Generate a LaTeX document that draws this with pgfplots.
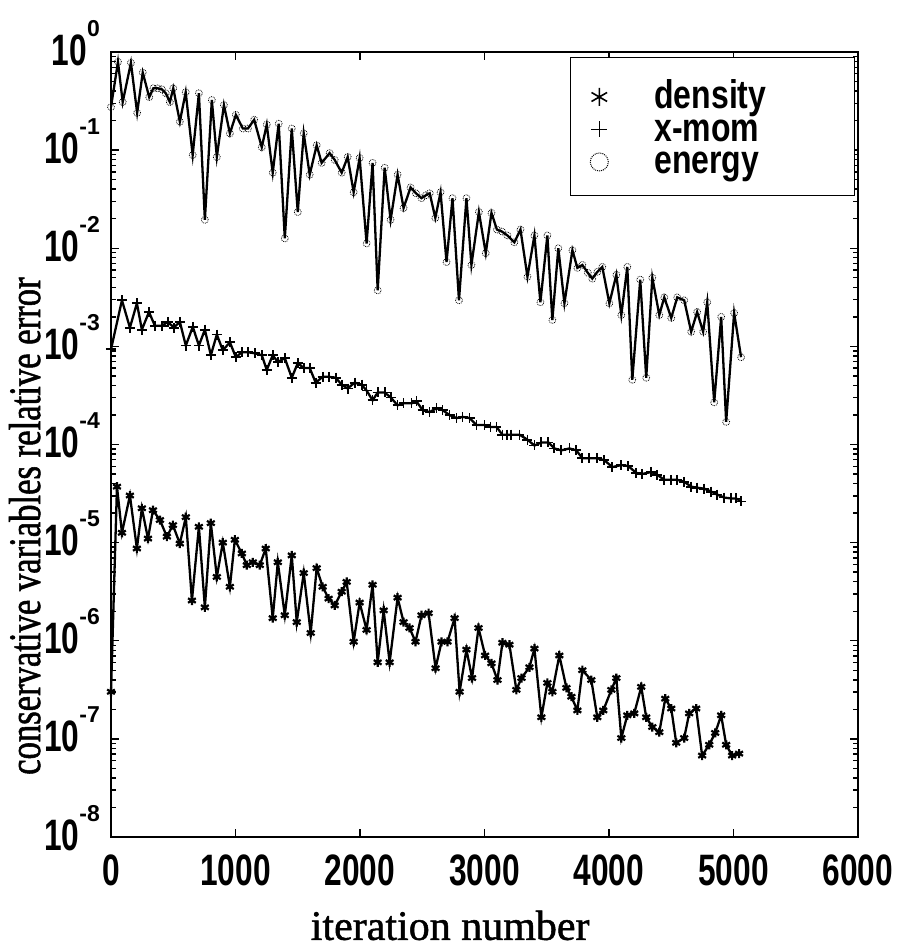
\documentclass[border=0pt]{standalone}
\usepackage{pgfplots}
\pgfplotsset{compat=1.18}
\usepackage{fontspec}
\setmainfont{Liberation Serif}
\newfontfamily\tickfont[FakeStretch=0.72]{Liberation Sans}
\newfontfamily\expfont{Liberation Sans}
\newfontfamily\legfont[FakeStretch=0.8]{Liberation Sans}
\newfontfamily\labfont[FakeStretch=0.77,FakeBold=1.2]{Liberation Serif}
\newfontfamily\xlabfont[FakeBold=1.2]{Liberation Serif}
\newcommand\ex[1]{\raisebox{29bp}{\expfont\bfseries\fontsize{23bp}{23bp}\selectfont #1}}
\newcommand\lent[1]{\rule[-3bp]{0pt}{34bp}\makebox[191bp][l]{#1}}
\begin{document}
\begin{tikzpicture}
\path[use as bounding box] (-111bp,-115bp) rectangle (794bp,837bp);
\begin{axis}[
  at={(0,0)}, anchor=south west, scale only axis,
  width=747bp, height=785bp,
  ymode=log, xmin=0, xmax=6000, ymin=1e-8, ymax=1,
  xtick={0,1000,2000,3000,4000,5000,6000},
  xticklabels={0,1000,2000,3000,4000,5000,6000},
  ytick={1e-8,1e-7,1e-6,1e-5,1e-4,1e-3,1e-2,1e-1,1},
  yticklabels={10\ex{-8},10\ex{-7},10\ex{-6},10\ex{-5},10\ex{-4},10\ex{-3},10\ex{-2},10\ex{-1},10\ex{0}},
  tick label style={font=\tickfont\bfseries\fontsize{44bp}{48bp}\selectfont},
  xticklabel style={anchor=base, inner sep=0pt, yshift=-48bp},
  yticklabel style={anchor=base east, inner sep=0pt, xshift=-11bp, yshift=-13bp},
  major tick length=8bp, minor tick length=5bp,
  tick style={line width=1.4bp, black},
  axis line style={line width=2.2bp},
  tick align=inside,
  xlabel={iteration number},
  ylabel={conservative variables relative error},
  xlabel style={at={(axis description cs:0.454,-0.131)}, anchor=base, font=\xlabfont\fontsize{42bp}{42bp}\selectfont},
  ylabel style={at={(axis description cs:-0.095,0.396)}, anchor=base, font=\labfont\fontsize{45bp}{45bp}\selectfont},
  legend style={at={(0.996,0.9936)}, anchor=north east, draw=black, line width=1.4bp,
    inner xsep=9bp, inner ysep=20bp, row sep=0bp, column sep=35bp,
    font=\legfont\bfseries\fontsize{40bp}{40bp}\selectfont, nodes={inner sep=0bp}},
  legend cell align=left,
  legend image code/.code={\path[draw=none] (-20bp,-3bp) -- (20bp,-3bp); \draw[#1] plot coordinates {(0bp,-3bp)};},
]
\addlegendimage{only marks, black, mark=asterisk, mark size=9bp, mark options={line width=1.6bp}}
\addlegendentry{\lent{density}}
\addlegendimage{only marks, black, mark=+, mark size=8bp, mark options={line width=1.4bp}}
\addlegendentry{\lent{x-mom}}
\addlegendimage{only marks, black, mark=o, mark size=9bp, mark options={line width=1bp, densely dotted}}
\addlegendentry{\lent{energy}}

% energy (top)
\addplot[black, line width=2.3bp, mark=o, mark size=3.5bp, mark options={line width=0.8bp, densely dotted}, forget plot] coordinates {
(0,0.275)(56,0.794)(94,0.309)(160,0.776)(210,0.240)(255,0.617)(307,0.347)(340,0.427)(375,0.427)(408,0.417)(440,0.380)(473,0.309)(500,0.427)(553,0.195)(600,0.389)(656,0.0891)(706,0.380)(754,0.0195)(810,0.324)(850,0.0851)(907,0.288)(955,0.148)(1003,0.229)(1059,0.166)(1100,0.166)(1150,0.204)(1211,0.107)(1251,0.182)(1299,0.0589)(1347,0.186)(1396,0.0126)(1452,0.166)(1500,0.0234)(1548,0.148)(1596,0.0562)(1652,0.112)(1692,0.0741)(1756,0.0933)(1797,0.0794)(1853,0.0589)(1901,0.0851)(1949,0.0372)(1997,0.0832)(2053,0.0112)(2101,0.0741)(2142,0.00372)(2198,0.0661)(2246,0.0195)(2302,0.0562)(2350,0.0257)(2406,0.0417)(2450,0.0363)(2494,0.0324)(2530,0.0347)(2560,0.0363)(2605,0.0204)(2647,0.0372)(2695,0.00724)(2743,0.0324)(2795,0.00295)(2855,0.0324)(2895,0.00676)(2955,0.0234)(3010,0.00891)(3056,0.0229)(3100,0.0155)(3140,0.0148)(3184,0.0135)(3240,0.0115)(3289,0.0155)(3345,0.00513)(3401,0.0135)(3449,0.00282)(3505,0.0135)(3545,0.00186)(3593,0.0100)(3642,0.00275)(3706,0.00955)(3746,0.00631)(3786,0.00676)(3830,0.00562)(3866,0.00490)(3906,0.00575)(3946,0.00646)(4003,0.00275)(4059,0.00537)(4099,0.00209)(4147,0.00646)(4187,0.000457)(4251,0.00479)(4299,0.000479)(4348,0.00501)(4404,0.00209)(4444,0.00316)(4500,0.00195)(4548,0.00316)(4604,0.00295)(4660,0.00141)(4708,0.00224)(4756,0.00141)(4789,0.00282)(4845,0.000269)(4901,0.00200)(4941,0.000170)(5005,0.00219)(5061,0.000776)
};
% x-mom (middle)
\addplot[black, line width=2.3bp, mark=+, mark size=5bp, mark options={line width=1.8bp, solid}, forget plot] coordinates {
(0,9.33e-4)(88,2.95e-3)(152,1.55e-3)(208,2.75e-3)(248,1.48e-3)(305,2.24e-3)(353,1.62e-3)(409,1.62e-3)(457,1.78e-3)(505,1.55e-3)(553,1.78e-3)(601,1.02e-3)(657,1.58e-3)(706,1.02e-3)(754,1.48e-3)(802,8.13e-4)(850,1.32e-3)(898,9.12e-4)(955,1.10e-3)(1003,7.76e-4)(1051,8.71e-4)(1099,8.71e-4)(1155,8.51e-4)(1211,8.13e-4)(1251,5.75e-4)(1299,8.13e-4)(1340,6.92e-4)(1396,7.59e-4)(1452,4.79e-4)(1500,6.76e-4)(1548,6.03e-4)(1596,6.03e-4)(1644,4.27e-4)(1700,4.90e-4)(1748,4.90e-4)(1805,4.79e-4)(1853,4.07e-4)(1901,3.72e-4)(1957,4.27e-4)(2013,4.07e-4)(2053,3.55e-4)(2101,2.82e-4)(2142,3.39e-4)(2198,3.39e-4)(2246,3.02e-4)(2302,2.51e-4)(2350,2.63e-4)(2414,2.63e-4)(2454,2.75e-4)(2503,2.24e-4)(2559,2.14e-4)(2615,2.34e-4)(2663,2.24e-4)(2719,2.00e-4)(2775,1.86e-4)(2824,1.91e-4)(2880,1.86e-4)(2936,1.58e-4)(3000,1.58e-4)(3048,1.51e-4)(3096,1.51e-4)(3144,1.26e-4)(3180,1.26e-4)(3216,1.26e-4)(3281,1.26e-4)(3345,1.12e-4)(3401,9.77e-5)(3457,1.05e-4)(3513,1.05e-4)(3561,9.12e-5)(3617,8.71e-5)(3682,9.12e-5)(3738,8.71e-5)(3786,7.24e-5)(3842,7.24e-5)(3906,7.24e-5)(3962,6.92e-5)(4027,5.89e-5)(4099,6.17e-5)(4155,6.03e-5)(4219,5.13e-5)(4267,5.01e-5)(4340,5.25e-5)(4388,4.90e-5)(4444,4.37e-5)(4500,4.37e-5)(4548,4.37e-5)(4604,4.17e-5)(4660,3.72e-5)(4708,3.63e-5)(4765,3.55e-5)(4821,3.31e-5)(4869,3.09e-5)(4925,2.88e-5)(4981,2.82e-5)(5021,2.82e-5)(5061,2.63e-5)
};
% density (bottom)
\addplot[black, line width=2.3bp, mark=asterisk, mark size=4.5bp, mark options={line width=2.2bp, solid}, forget plot] coordinates {
(0,3.02e-7)(48,3.72e-5)(88,1.26e-5)(152,3.02e-5)(208,8.71e-6)(248,2.24e-5)(297,1.10e-5)(337,2.14e-5)(393,1.70e-5)(449,1.15e-5)(497,1.51e-5)(553,9.77e-6)(601,1.82e-5)(650,2.57e-6)(706,1.45e-5)(754,2.19e-6)(802,1.58e-5)(850,4.47e-6)(898,1.00e-5)(955,3.55e-6)(995,1.07e-5)(1051,7.76e-6)(1091,5.89e-6)(1139,6.31e-6)(1195,5.89e-6)(1243,8.71e-6)(1299,1.70e-6)(1340,6.31e-6)(1396,1.82e-6)(1452,7.41e-6)(1492,1.55e-6)(1548,4.90e-6)(1604,1.20e-6)(1652,5.50e-6)(1700,3.55e-6)(1748,2.69e-6)(1797,2.29e-6)(1853,3.16e-6)(1893,3.98e-6)(1949,9.77e-7)(1997,2.45e-6)(2053,1.29e-6)(2101,3.72e-6)(2142,6.03e-7)(2190,2.04e-6)(2238,6.03e-7)(2302,2.75e-6)(2350,1.55e-6)(2398,1.35e-6)(2446,9.77e-7)(2494,1.82e-6)(2551,1.91e-6)(2607,5.25e-7)(2655,9.77e-7)(2703,9.77e-7)(2760,1.70e-6)(2800,3.02e-7)(2855,8.13e-7)(2900,4.17e-7)(2952,1.35e-6)(3005,7.08e-7)(3056,5.89e-7)(3104,3.98e-7)(3144,9.55e-7)(3200,9.12e-7)(3256,3.16e-7)(3297,4.17e-7)(3361,5.37e-7)(3401,8.32e-7)(3457,1.66e-7)(3505,3.72e-7)(3545,3.02e-7)(3601,7.08e-7)(3658,3.31e-7)(3698,2.69e-7)(3746,1.95e-7)(3786,5.01e-7)(3858,3.98e-7)(3906,1.66e-7)(3954,1.95e-7)(4019,3.16e-7)(4059,4.17e-7)(4099,1.02e-7)(4147,1.74e-7)(4203,1.82e-7)(4259,3.39e-7)(4299,1.66e-7)(4348,1.32e-7)(4404,1.17e-7)(4452,2.57e-7)(4500,2.04e-7)(4540,9.12e-8)(4604,1.02e-7)(4644,1.82e-7)(4700,2.04e-7)(4748,6.76e-8)(4805,8.71e-8)(4853,1.15e-7)(4901,1.74e-7)(4941,8.71e-8)(4989,6.76e-8)(5045,7.08e-8)
};
\end{axis}
\end{tikzpicture}
\end{document}
